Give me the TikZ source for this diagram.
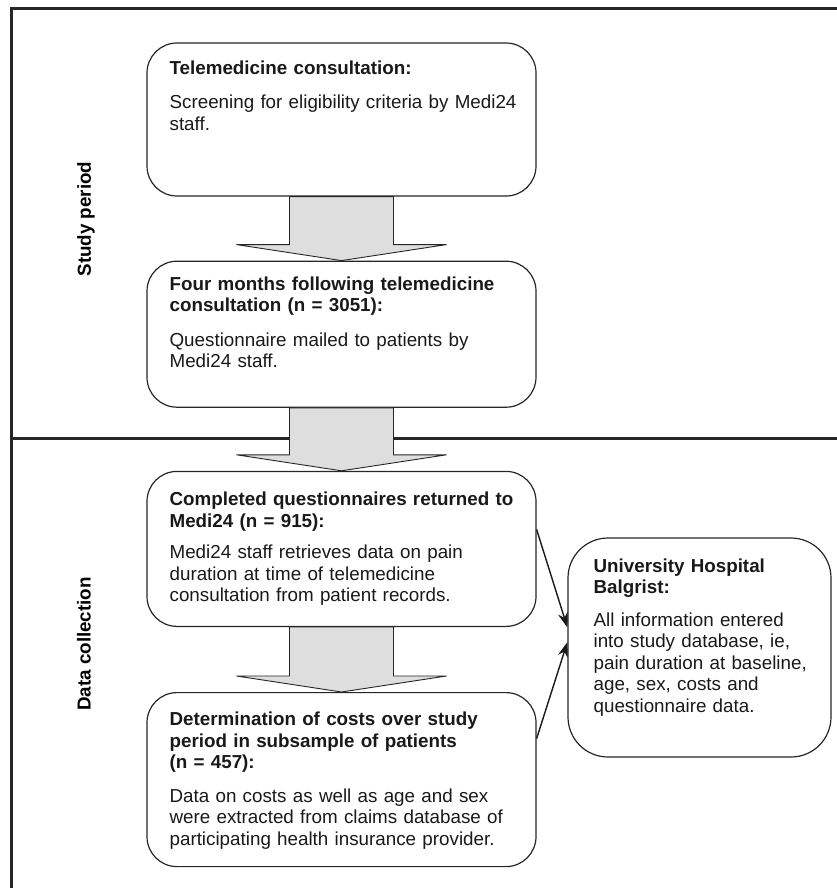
\documentclass[tikz,border=0pt]{standalone}
\usepackage{fontspec}
\setmainfont{Liberation Sans}
\usetikzlibrary{arrows.meta, positioning, calc}
\tikzset{
    box/.style={
        rectangle,
        draw=black!85,
        line width=1.2pt,
        rounded corners=30pt,
        minimum width=389pt,
        inner sep=0pt
    },
    boxtext/.style={
        anchor=north west,
        inner sep=0pt,
        text width=362pt,
        align=left,
        font=\fontsize{18.8}{21.5}\selectfont,
        text=black!90
    },
    fatarrow/.style={
        draw=black!85,
        line width=0.9pt,
        fill=black!13
    },
    linkarrow/.style={
        -{Stealth[length=15pt,width=10pt]},
        line width=1.4pt,
        black!90
    },
    frameline/.style={
        line width=3pt,
        black!85
    },
    phaselabel/.style={
        rotate=90,
        font=\fontsize{18.8}{21.5}\selectfont\bfseries
    }
}

\begin{document}
\begin{tikzpicture}[x=1pt, y=-1pt]

    \useasboundingbox (0,0) rectangle (837,888);

    % Frame and phase divider
    \draw[frameline] (11,888) -- (11,9) -- (837,9);
    \draw[frameline] (11,438) -- (837,438);

    % Phase labels
    \node[phaselabel] (study) at (86,219) {Study period};
    \node[phaselabel] (collect) at (84,644) {Data collection};

    % Boxes
    \node[box, minimum height=153pt] (b1) at (341.5,119.5) {};
    \node[box, minimum height=146pt, below=64pt of b1] (b2) {};
    \node[box, minimum height=155pt, below=63pt of b2] (b3) {};
    \node[box, minimum height=174pt, below=65pt of b3] (b4) {};
    \node[box, minimum width=263pt, minimum height=219pt, rounded corners=40pt] (uni) at (699.5,647.5) {};

    % Box texts
    \node[boxtext] (t1) at ([shift={(23,18)}]b1.north west)
        {\textbf{Telemedicine consultation:}\\[13pt]Screening for eligibility criteria by Medi24\\staff.};
    \node[boxtext] (t2) at ([shift={(23,16)}]b2.north west)
        {\textbf{Four months following telemedicine}\\\textbf{consultation (n = 3051):}\\[13pt]Questionnaire mailed to patients by\\Medi24 staff.};
    \node[boxtext] (t3) at ([shift={(23,21)}]b3.north west)
        {\textbf{Completed questionnaires returned to}\\\textbf{Medi24 (n = 915):}\\[10pt]Medi24 staff retrieves data on pain\\duration at time of telemedicine\\consultation from patient records.};
    \node[boxtext] (t4) at ([shift={(23,20)}]b4.north west)
        {\textbf{Determination of costs over study}\\\textbf{period in subsample of patients}\\\textbf{(n = 457):}\\[12pt]Data on costs as well as age and sex\\were extracted from claims database of\\participating health insurance provider.};
    \node[boxtext, text width=235pt] (t5) at ([shift={(26,21)}]uni.north west)
        {\textbf{University Hospital}\\\textbf{Balgrist:}\\[11pt]All information entered\\into study database, ie,\\pain duration at baseline,\\age, sex, costs and\\questionnaire data.};

    % Block arrows
    \draw[fatarrow] ($(b1.south)+(-52,0)$) |- ($(b2.north)+(-105,-16)$) -- (b2.north)
        -- ($(b2.north)+(105,-16)$) -| ($(b1.south)+(52,0)$) -- cycle;
    \draw[fatarrow] ($(b2.south)+(-52,0)$) |- ($(b3.north)+(-105,-16)$) -- (b3.north)
        -- ($(b3.north)+(105,-16)$) -| ($(b2.south)+(52,0)$) -- cycle;
    \draw[fatarrow] ($(b3.south)+(-52,0)$) |- ($(b4.north)+(-105,-16)$) -- (b4.north)
        -- ($(b4.north)+(105,-16)$) -| ($(b3.south)+(52,0)$) -- cycle;

    % Links to hospital
    \draw[linkarrow] ([yshift=19.5pt]b3.east) -- ([yshift=20pt]uni.west);
    \draw[linkarrow] ([yshift=41pt]b4.east) -- ([yshift=5.5pt]uni.west);

\end{tikzpicture}
\end{document}
